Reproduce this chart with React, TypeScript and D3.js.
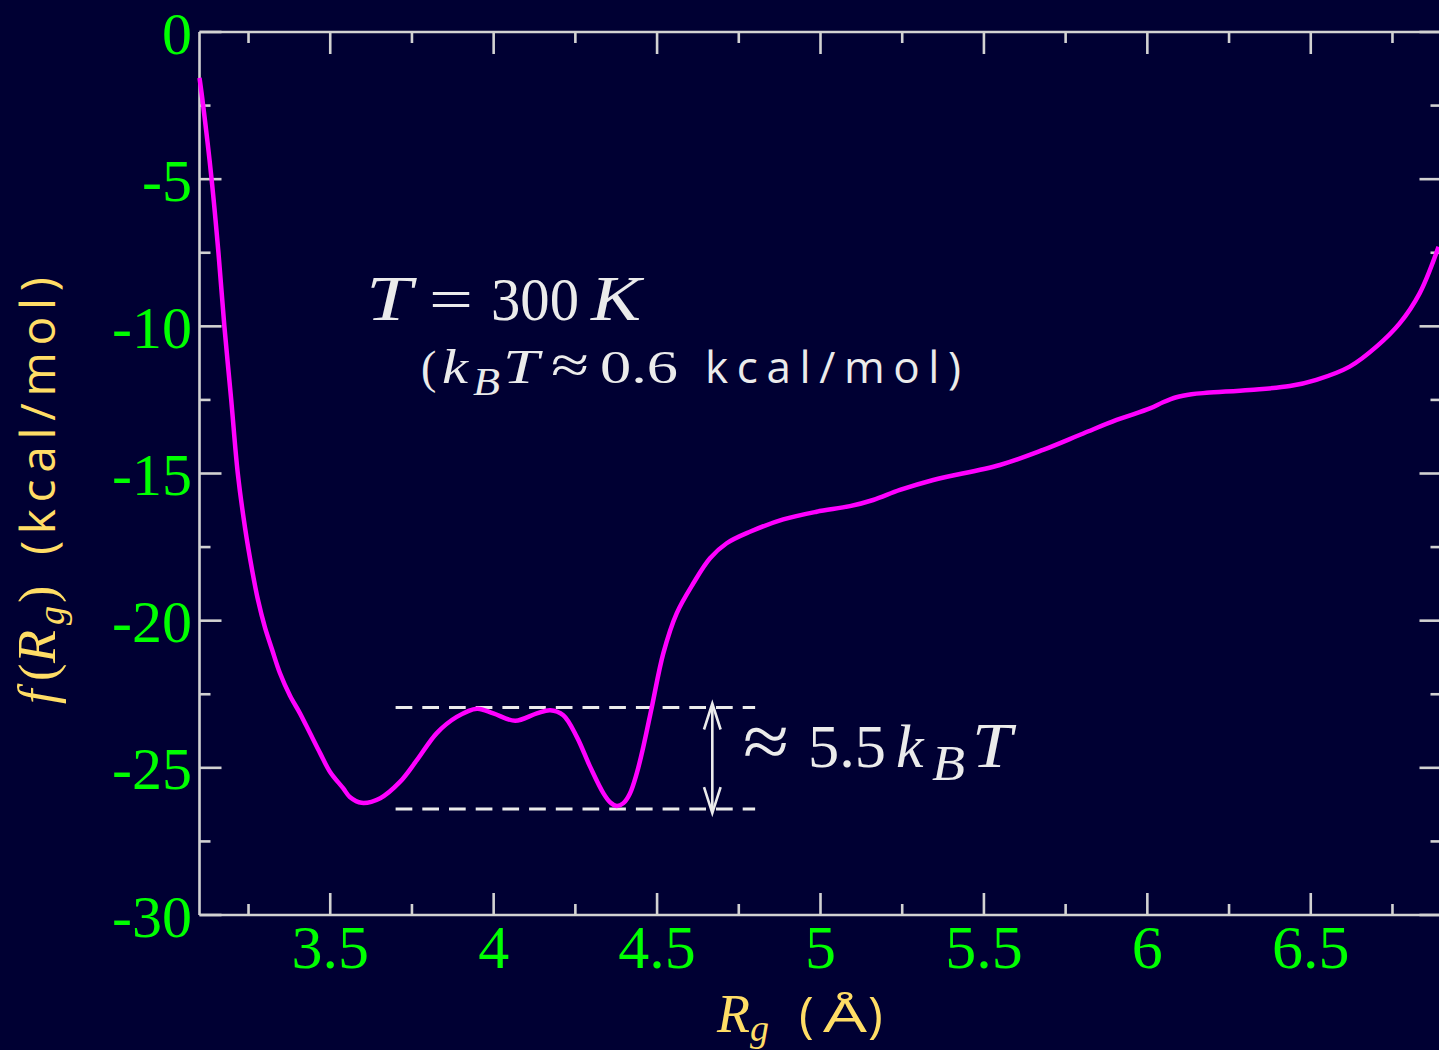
import React from 'react';
import * as d3 from 'd3';

// ---- data ----
const rg = [
  3.100, 3.111, 3.137, 3.158, 3.176, 3.197, 3.217, 3.239, 3.261, 3.279,
  3.300, 3.322, 3.346, 3.377, 3.407, 3.438, 3.469, 3.499, 3.540, 3.560,
  3.596, 3.653, 3.714, 3.765, 3.826, 3.887, 3.949, 3.999, 4.066, 4.132,
  4.173, 4.213, 4.254, 4.295, 4.336, 4.357, 4.377, 4.397, 4.417, 4.438,
  4.458, 4.484, 4.519, 4.560, 4.611, 4.662, 4.713, 4.784, 4.886, 4.988,
  5.090, 5.161, 5.243, 5.345, 5.549, 5.681, 5.804, 5.906, 6.008, 6.048,
  6.089, 6.135, 6.181, 6.313, 6.436, 6.517, 6.619, 6.701, 6.772, 6.833,
  6.891,
];
const freeEnergy = [
  -1.56, -2.48, -5.00, -7.50, -9.99, -12.49, -14.98, -16.82, -18.28, -19.30,
  -20.22, -20.98, -21.78, -22.55, -23.14, -23.82, -24.50, -25.13, -25.70, -25.99,
  -26.19, -26.03, -25.47, -24.74, -23.82, -23.27, -22.99, -23.15, -23.40, -23.15,
  -23.04, -23.21, -23.94, -24.96, -25.87, -26.18, -26.30, -26.20, -25.87, -25.18,
  -24.28, -22.93, -21.11, -19.75, -18.73, -17.88, -17.37, -16.98, -16.56, -16.30,
  -16.11, -15.90, -15.56, -15.22, -14.71, -14.20, -13.64, -13.18, -12.79, -12.58,
  -12.41, -12.31, -12.26, -12.16, -12.03, -11.82, -11.37, -10.69, -9.90, -8.88,
  -7.30,
];

const xDomain = [3.1, 6.9];
const yDomain = [-30, 0];
const xMajorTicks = [3.5, 4, 4.5, 5, 5.5, 6, 6.5];
const xTickLabels = ['3.5', '4', '4.5', '5', '5.5', '6', '6.5'];
const xMinorTicks = [3.25, 3.75, 4.25, 4.75, 5.25, 5.75, 6.25, 6.75];
const yMajorTicks = [0, -5, -10, -15, -20, -25, -30];
const yTickLabels = ['0', '-5', '-10', '-15', '-20', '-25', '-30'];
const yMinorTicks = [-2.5, -7.5, -12.5, -17.5, -22.5, -27.5];

// barrier annotation: two reference levels and their horizontal extent
const barrierLevels = [-22.95, -26.4];
const barrierSpan = [3.7, 4.8];
const arrowAt = 4.669;

// ---- style ----
const BG = '#000033';
const AXIS = '#d2d2d2';
const GREEN = '#00ff00';
const YELLOW = '#ffdd66';
const WHITE = '#ebebeb';
const CURVE = '#ff00ff';
const SERIF = '"Liberation Serif", "DejaVu Serif", serif';
const SANS = '"Open Sans", "Noto Sans", sans-serif';

type P = {
  t: string; x: number; y: number; size: number; fam?: string; it?: boolean;
  fill: string; len?: number; stretch?: boolean;
};

function Pieces({ items }: { items: P[] }) {
  return (
    <>
      {items.map((p, i) => (
        <text
          key={i}
          x={p.x}
          y={p.y}
          fontSize={p.size}
          fontFamily={p.fam ?? SERIF}
          fontStyle={p.it ? 'italic' : 'normal'}
          fill={p.fill}
          {...(p.len
            ? { textLength: p.len, lengthAdjust: p.stretch ? 'spacingAndGlyphs' : 'spacing' }
            : {})}
        >
          {p.t}
        </text>
      ))}
    </>
  );
}

export default function App() {
  const W = 1439;
  const H = 1050;
  const x = d3.scaleLinear().domain(xDomain).range([199.5, 1441.5]);
  const y = d3.scaleLinear().domain(yDomain).range([915, 32]);
  const [xl, xr] = x.range();
  const [yb, yt] = y.range();

  const pts: [number, number][] = rg.map((r, i) => [r, freeEnergy[i]]);
  const line = d3
    .line<[number, number]>()
    .x((d) => x(d[0]))
    .y((d) => y(d[1]))
    .curve(d3.curveCatmullRom.alpha(0.5));

  const MAJ = 22;
  const MIN = 11;
  const sw = 2.6;

  const ax = x(arrowAt);
  const aTop = y(barrierLevels[0]) - 4;
  const aBot = y(barrierLevels[1]) + 4;
  const ah = 26;
  const aw = 8.3;

  // annotation text layout (pixel offsets)
  const line1: P[] = [
    { t: 'T', x: 366, y: 320, size: 64, it: true, fill: WHITE, len: 46, stretch: true },
    { t: '=', x: 429, y: 320, size: 62, fill: WHITE, len: 44, stretch: true },
    { t: '300', x: 491, y: 320, size: 62, fill: WHITE, len: 88, stretch: true },
    { t: 'K', x: 591, y: 320, size: 64, it: true, fill: WHITE, len: 50, stretch: true },
  ];
  const line2: P[] = [
    { t: '(', x: 421, y: 383, size: 46, fill: WHITE },
    { t: 'k', x: 442, y: 383, size: 48, it: true, fill: WHITE, len: 26, stretch: true },
    { t: 'B', x: 473, y: 395, size: 40, it: true, fill: WHITE, len: 27, stretch: true },
    { t: 'T', x: 503, y: 383, size: 48, it: true, fill: WHITE, len: 36, stretch: true },
    { t: '\u2248', x: 551, y: 383, size: 54, fill: WHITE, len: 38, stretch: true },
    { t: '0.6', x: 600, y: 383, size: 46, fill: WHITE, len: 78, stretch: true },
    { t: 'kcal/mol)', x: 705, y: 383, size: 44, fam: SANS, fill: WHITE, len: 256 },
  ];
  const line3: P[] = [
    { t: '\u2248', x: 743, y: 767, size: 76, fill: WHITE, len: 46, stretch: true },
    { t: '5.5', x: 808, y: 767, size: 62, fill: WHITE, len: 78, stretch: true },
    { t: 'k', x: 896, y: 767, size: 62, it: true, fill: WHITE },
    { t: 'B', x: 932, y: 780, size: 50, it: true, fill: WHITE, len: 33, stretch: true },
    { t: 'T', x: 972, y: 767, size: 64, it: true, fill: WHITE, len: 40, stretch: true },
  ];
  const xLabel: P[] = [
    { t: 'R', x: 717, y: 1032, size: 54, it: true, fill: YELLOW },
    { t: 'g', x: 750, y: 1041, size: 38, it: true, fill: YELLOW },
    { t: '(', x: 799, y: 1032, size: 50, fam: SANS, fill: YELLOW },
    { t: '\u00c5', x: 823, y: 1032, size: 46, fam: SANS, fill: YELLOW, len: 44, stretch: true },
    { t: ')', x: 868, y: 1032, size: 50, fam: SANS, fill: YELLOW },
  ];
  const yLabel: P[] = [
    { t: 'f', x: 8, y: 0, size: 52, it: true, fill: YELLOW },
    { t: '(', x: 31, y: 0, size: 52, fill: YELLOW },
    { t: 'R', x: 49, y: 0, size: 54, it: true, fill: YELLOW },
    { t: 'g', x: 87, y: 9, size: 38, it: true, fill: YELLOW },
    { t: ')', x: 109, y: 0, size: 52, fill: YELLOW },
    { t: '(kcal/mol)', x: 157, y: 0, size: 48, fam: SANS, fill: YELLOW, len: 278 },
  ];

  return (
    <svg
      width={W}
      height={H}
      style={{ position: 'absolute', left: 0, top: 0, display: 'block' }}
    >
      <rect x={0} y={0} width={W} height={H} fill={BG} />

      {/* frame */}
      <g stroke={AXIS} strokeWidth={sw} fill="none">
        <line x1={xl} y1={yt} x2={xr} y2={yt} />
        <line x1={xl} y1={yb} x2={xr} y2={yb} />
        <line x1={xl} y1={yt} x2={xl} y2={yb} />
        <line x1={xr} y1={yt} x2={xr} y2={yb} />
        {xMajorTicks.map((v) => (
          <g key={'xM' + v}>
            <line x1={x(v)} x2={x(v)} y1={yb} y2={yb - MAJ} />
            <line x1={x(v)} x2={x(v)} y1={yt} y2={yt + MAJ} />
          </g>
        ))}
        {xMinorTicks.map((v) => (
          <g key={'xm' + v}>
            <line x1={x(v)} x2={x(v)} y1={yb} y2={yb - MIN} />
            <line x1={x(v)} x2={x(v)} y1={yt} y2={yt + MIN} />
          </g>
        ))}
        {yMajorTicks.map((v) => (
          <g key={'yM' + v}>
            <line x1={xl} x2={xl + MAJ} y1={y(v)} y2={y(v)} />
            <line x1={xr} x2={xr - MAJ} y1={y(v)} y2={y(v)} />
          </g>
        ))}
        {yMinorTicks.map((v) => (
          <g key={'ym' + v}>
            <line x1={xl} x2={xl + MIN} y1={y(v)} y2={y(v)} />
            <line x1={xr} x2={xr - MIN} y1={y(v)} y2={y(v)} />
          </g>
        ))}
      </g>

      {/* tick labels */}
      <g fontFamily={SERIF} fill={GREEN}>
        {xMajorTicks.map((v, i) => (
          <text key={'xl' + v} x={x(v)} y={968} textAnchor="middle" fontSize={62}>
            {xTickLabels[i]}
          </text>
        ))}
        {yMajorTicks.map((v, i) => (
          <text key={'yl' + v} x={192} y={y(v) + 21.5} textAnchor="end" fontSize={60}>
            {yTickLabels[i]}
          </text>
        ))}
      </g>

      {/* barrier guides */}
      <g stroke={WHITE} strokeWidth={3} strokeDasharray="16.7 10" fill="none">
        {barrierLevels.map((lv) => (
          <line
            key={'bl' + lv}
            x1={x(barrierSpan[0])}
            x2={x(barrierSpan[1])}
            y1={y(lv)}
            y2={y(lv)}
          />
        ))}
      </g>
      <g stroke={WHITE} strokeWidth={2.6} fill="none" strokeLinejoin="miter">
        <line x1={ax} x2={ax} y1={aTop + 1} y2={aBot - 1} />
        <polyline points={`${ax - aw},${aTop + ah} ${ax},${aTop} ${ax + aw},${aTop + ah}`} />
        <polyline points={`${ax - aw},${aBot - ah} ${ax},${aBot} ${ax + aw},${aBot - ah}`} />
      </g>

      {/* curve */}
      <path d={line(pts) ?? ''} fill="none" stroke={CURVE} strokeWidth={4.5} strokeLinejoin="round" />

      {/* annotations */}
      <Pieces items={line1} />
      <Pieces items={line2} />
      <Pieces items={line3} />

      {/* axis titles */}
      <Pieces items={xLabel} />
      <g transform="translate(55,712) rotate(-90)">
        <Pieces items={yLabel} />
      </g>
    </svg>
  );
}
